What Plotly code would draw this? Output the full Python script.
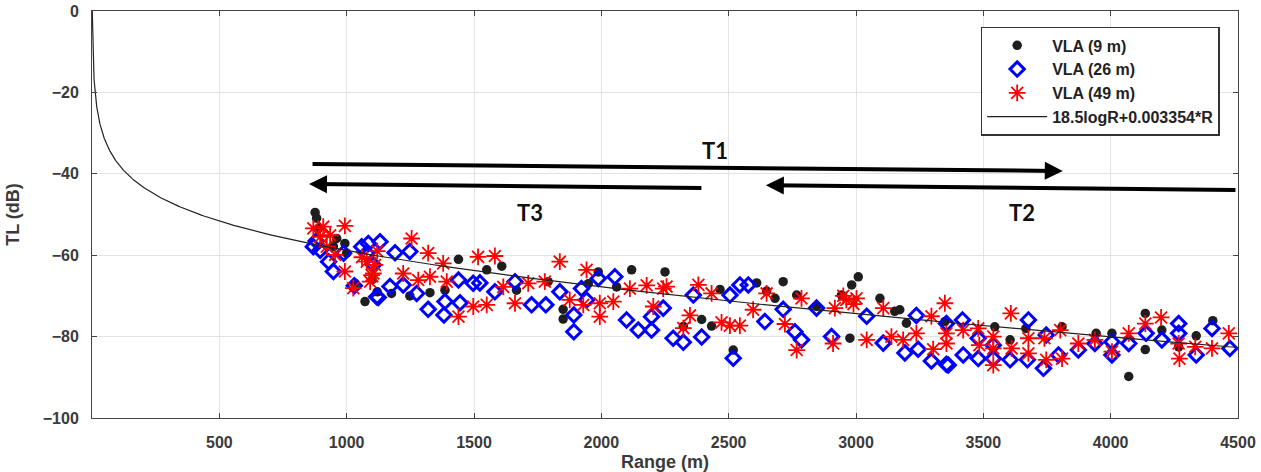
import numpy as np
import plotly.graph_objects as go

# ---------------- data ----------------
r_9m = [876, 882, 889, 948, 961, 993, 1000, 1033, 1072, 1100, 1120, 1176, 1248, 1327, 1386,
        1439, 1550, 1609, 1667, 1791, 1850, 1850, 1949, 1988, 2060, 2119, 2250, 2322,
        2394, 2433, 2466, 2518, 2610, 2649, 2682, 2714, 2767, 2845, 2943, 2976, 2983,
        3009, 3094, 3152, 3172, 3198, 3349, 3545, 3605, 3667, 3809, 3943, 4005, 4071,
        4136, 4136, 4201, 4267, 4336, 4401]
tl_9m = [-49.5, -50.9, -53.4, -57.9, -55.9, -57.1, -59.5, -66.9, -71.4, -66.0, -69.0, -69.4, -70.0,
         -69.2, -68.6, -61.0, -63.6, -62.7, -68.6, -66.5, -73.3, -75.7, -67.0, -64.1,
         -67.8, -63.6, -64.1, -77.5, -75.8, -77.4, -68.4, -83.3, -66.8, -68.8, -70.6,
         -66.5, -69.8, -72.6, -69.8, -80.4, -67.3, -65.3, -70.6, -73.8, -73.4, -76.7,
         -76.3, -77.6, -80.8, -78.0, -77.6, -79.2, -79.2, -89.8, -74.3, -83.2, -78.4,
         -82.5, -79.8, -76.1]

r_26m = [869, 880, 896, 929, 948, 988, 1030, 1059, 1079, 1085, 1105, 1118, 1124, 1131, 1170,
         1190, 1222, 1248, 1275, 1320, 1382, 1386, 1439, 1445, 1497, 1523, 1582, 1661,
         1726, 1782, 1837, 1892, 1892, 1922, 1942, 1988, 2053, 2099, 2145, 2197, 2197,
         2243, 2282, 2322, 2361, 2394, 2505, 2518, 2544, 2577, 2642, 2714, 2760, 2786,
         2845, 2904, 3042, 3107, 3192, 3237, 3244, 3296, 3355, 3355, 3362, 3418, 3421,
         3480, 3480, 3539, 3539, 3605, 3673, 3677, 3736, 3747, 3795, 3873, 3938, 4005,
         4005, 4071, 4139, 4201, 4267, 4267, 4336, 4398, 4468]
tl_26m = [-57.9, -56.5, -58.8, -61.6, -64.0, -59.5, -67.5, -57.9, -59.5, -57.1, -62.4, -70.2,
          -70.4, -56.7, -67.7, -59.4, -67.3, -59.1, -69.4, -73.3, -74.7, -71.4, -66.1,
          -71.7, -66.9, -66.8, -69.0, -66.5, -72.2, -72.2, -69.0, -74.7, -78.8, -68.2,
          -71.0, -65.7, -65.3, -75.9, -78.4, -78.4, -75.1, -73.0, -80.4, -81.4, -69.8,
          -80.1, -69.8, -85.3, -67.3, -67.3, -76.3, -73.3, -78.8, -80.8, -73.0, -80.0,
          -75.0, -81.6, -84.0, -74.8, -83.1, -86.0, -86.8, -76.8, -87.0, -75.9, -84.5,
          -80.4, -85.4, -82.1, -85.4, -85.7, -85.7, -75.9, -87.8, -79.6, -84.5, -83.3,
          -81.7, -81.3, -84.5, -81.7, -79.2, -80.8, -76.8, -79.2, -84.5, -78.0, -82.9]

r_49m = [869, 896, 908, 922, 935, 955, 993, 993, 1026, 1060, 1079, 1092, 1098, 1105, 1111,
         1120, 1222, 1255, 1281, 1320, 1327, 1379, 1393, 1439, 1497, 1516, 1550, 1582,
         1615, 1661, 1713, 1778, 1837, 1876, 1929, 1942, 1994, 1994, 2047, 2112, 2178,
         2204, 2243, 2256, 2322, 2348, 2381, 2433, 2472, 2505, 2544, 2596, 2649, 2721,
         2767, 2786, 2910, 2917, 2950, 2962, 2990, 3002, 3042, 3107, 3139, 3185, 3237,
         3296, 3303, 3349, 3355, 3355, 3421, 3480, 3484, 3539, 3539, 3539, 3608, 3611,
         3677, 3677, 3740, 3747, 3802, 3809, 3873, 3938, 4005, 4071, 4136, 4198, 4267,
         4270, 4332, 4398, 4464]
tl_49m = [-53.4, -55.5, -53.0, -57.9, -55.1, -59.9, -52.8, -64.0, -68.1, -60.5, -61.6, -66.5,
          -64.9, -64.5, -62.4, -59.0, -64.5, -55.9, -66.1, -59.5, -65.3, -62.0, -66.5,
          -75.1, -72.6, -60.4, -72.2, -60.2, -67.8, -71.8, -66.9, -66.5, -61.6, -71.0,
          -72.2, -63.6, -75.1, -71.8, -71.4, -68.2, -67.4, -72.6, -68.2, -67.7, -77.9,
          -74.8, -67.3, -69.4, -76.5, -77.3, -77.3, -73.4, -69.4, -76.9, -83.3, -70.6,
          -81.7, -73.0, -70.0, -71.0, -72.0, -70.6, -80.8, -73.0, -80.0, -80.8, -79.2,
          -75.0, -83.1, -71.8, -79.2, -81.7, -78.4, -78.0, -82.1, -80.0, -82.9, -87.0,
          -74.3, -82.9, -80.4, -84.1, -80.4, -85.7, -78.4, -85.4, -81.7, -80.8, -83.7,
          -79.2, -76.8, -75.3, -81.7, -85.4, -82.5, -82.9, -79.2]

# fitted model from the legend: TL = -(18.5 log10 R + 0.003354 R)
fit_a = 18.5
fit_b = 0.003354
fit_label = "18.5logR+0.003354*R"

x_ticks = [500, 1000, 1500, 2000, 2500, 3000, 3500, 4000, 4500]
y_ticks = [0, -20, -40, -60, -80, -100]

# track arrows: (label, tail_R, tail_TL, head_R, head_TL, label_R, label_TL)
tracks = [
    ("T1", 860, -37.6, 3812, -39.3, 2446, -34.2),
    ("T3", 2399, -43.5, 852, -42.5, 1720, -49.6),
    ("T2", 4496, -44.0, 2646, -42.8, 3651, -49.6),
]

# ---------------- figure ----------------
FONT = "Liberation Sans, Arial, sans-serif"
fit_r = np.geomspace(1, 4500, 500)
fit_tl = -(fit_a * np.log10(fit_r) + fit_b * fit_r)

fig = go.Figure()
fig.add_trace(go.Scatter(x=r_9m, y=tl_9m, mode="markers", name="VLA (9 m)",
                         marker=dict(symbol="circle", size=9.5, color="#1e1e1e")))
fig.add_trace(go.Scatter(x=r_26m, y=tl_26m, mode="markers", name="VLA (26 m)",
                         marker=dict(symbol="diamond-open", size=11, color="#0000ff",
                                     line=dict(width=3, color="#0000ff"))))
fig.add_trace(go.Scatter(x=r_49m, y=tl_49m, mode="markers", name="VLA (49 m)",
                         marker=dict(symbol="asterisk-open", size=14, color="#ff0000",
                                     line=dict(width=1.8, color="#ff0000"))))
fig.add_trace(go.Scatter(x=fit_r, y=fit_tl, mode="lines", name=fit_label,
                         line=dict(color="#222222", width=1.2)))

for lab, tx, ty, hx, hy, lx, ly in tracks:
    fig.add_annotation(x=hx, y=hy, ax=tx, ay=ty, xref="x", yref="y", axref="x", ayref="y",
                       text="", showarrow=True, arrowhead=2, arrowsize=0.9,
                       arrowwidth=4, arrowcolor="#000000", standoff=0, startstandoff=0)
    fig.add_annotation(x=lx, y=ly, xref="x", yref="y", text=lab, showarrow=False,
                       font=dict(family="Lato, " + FONT, size=22, color="#111111",
                                 weight="bold"))

axis_common = dict(showgrid=True, gridcolor="#e3e3e3", gridwidth=1, zeroline=False,
                   showline=True, linecolor="#444444", linewidth=1, mirror="ticks",
                   ticks="inside", ticklen=5, tickcolor="#444444", automargin=False,
                   tickfont=dict(family=FONT, size=16, color="#3a3a3a", weight="bold"))

fig.update_xaxes(range=[0, 4500], tickvals=x_ticks, ticklabelstandoff=10,
                 title=dict(text="Range (m)", standoff=14,
                            font=dict(family=FONT, size=18, color="#3a3a3a", weight="bold")),
                 **axis_common)
fig.update_yaxes(range=[-100, 0], tickvals=y_ticks, ticklabelstandoff=9,
                 title=dict(text="TL (dB)", standoff=18,
                            font=dict(family=FONT, size=18, color="#3a3a3a", weight="bold")),
                 **axis_common)

fig.update_layout(
    width=1261, height=472,
    margin=dict(l=92, r=23, t=11, b=54, autoexpand=False),
    plot_bgcolor="white", paper_bgcolor="white",
    showlegend=True,
    legend=dict(x=0.984, y=0.961, xanchor="right", yanchor="top",
                bgcolor="white", bordercolor="#333333", borderwidth=1.5,
                font=dict(family=FONT, size=16, color="#222222", weight="bold"),
                itemwidth=60, tracegroupgap=0),
)

fig.write_html("out.html")
